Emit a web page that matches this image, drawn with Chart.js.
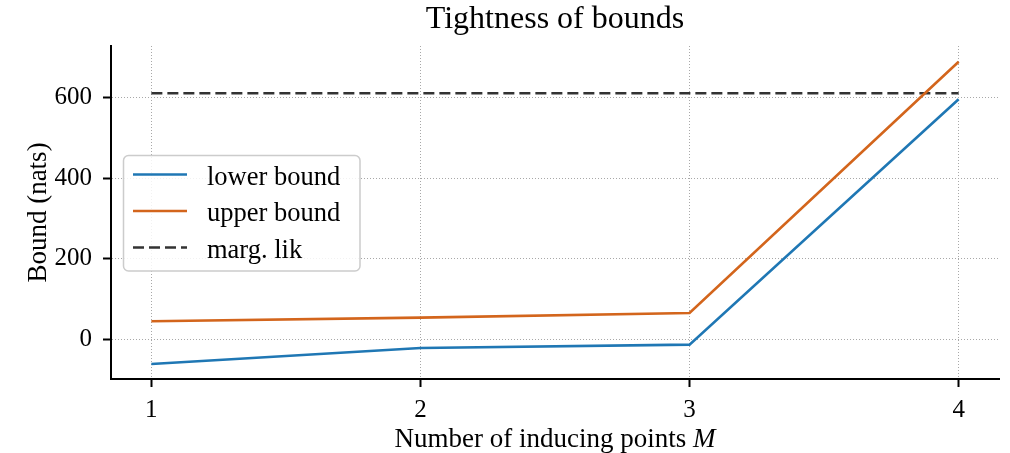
<!DOCTYPE html>
<html>
<head>
<meta charset="utf-8">
<title>Tightness of bounds</title>
<script src="https://cdn.jsdelivr.net/npm/chart.js@4.4.0/dist/chart.umd.min.js"></script>
<style>
  html, body { margin: 0; padding: 0; background: #ffffff; }
  #wrap { width: 1010px; height: 453px; position: relative; }
</style>
</head>
<body>
<div id="wrap"><canvas id="chart"></canvas></div>
<script>
// Number of inducing points on the x axis
const inducingPoints = [1, 2, 3, 4];
// Bounds on the log marginal likelihood, in nats
const lowerBound = [-60.5, -20.8, -12.4, 595];
const upperBound = [45.4, 54.5, 66, 688];
const margLik = [610, 610, 610, 610];
// Tick labels
const xTicks = [1, 2, 3, 4];
const yTicks = [0, 200, 400, 600];

const SERIF = "'Liberation Serif', 'DejaVu Serif', serif";

function toPoints(ys) {
  return inducingPoints.map((x, i) => ({ x: x, y: ys[i] }));
}

// Legend box drawn inside the plot area, from the dataset styles
const insideLegend = {
  id: 'insideLegend',
  afterDraw(chart, args, opts) {
    const ctx = chart.ctx;
    const { x, y, w, h, r } = opts.box;
    ctx.save();
    ctx.beginPath();
    ctx.roundRect(x, y, w, h, r);
    ctx.fillStyle = 'rgba(255,255,255,0.85)';
    ctx.fill();
    ctx.lineWidth = 1.5;
    ctx.strokeStyle = '#cccccc';
    ctx.stroke();
    ctx.font = opts.fontSize + 'px ' + SERIF;
    ctx.textAlign = 'left';
    ctx.textBaseline = 'alphabetic';
    chart.data.datasets.forEach((ds, i) => {
      const rowY = opts.firstRow + i * opts.rowGap;
      ctx.beginPath();
      ctx.setLineDash(ds.borderDash || []);
      ctx.lineWidth = ds.borderWidth;
      ctx.strokeStyle = ds.borderColor;
      ctx.moveTo(opts.lineX0, rowY);
      ctx.lineTo(opts.lineX1, rowY);
      ctx.stroke();
      ctx.setLineDash([]);
      ctx.fillStyle = '#000000';
      ctx.fillText(ds.label, opts.textX, rowY + opts.textDrop);
    });
    ctx.restore();
  }
};

// x-axis title with an italic symbol at the end
const xAxisTitle = {
  id: 'xAxisTitle',
  afterDraw(chart, args, opts) {
    const ctx = chart.ctx;
    const area = chart.chartArea;
    const plain = opts.text;
    const sym = opts.symbol;
    ctx.save();
    ctx.fillStyle = '#000000';
    ctx.textBaseline = 'alphabetic';
    ctx.textAlign = 'left';
    const fPlain = opts.fontSize + 'px ' + SERIF;
    const fSym = 'italic ' + opts.fontSize + 'px ' + SERIF;
    ctx.font = fPlain;
    const w1 = ctx.measureText(plain).width;
    ctx.font = fSym;
    const w2 = ctx.measureText(sym).width;
    const x0 = (area.left + area.right) / 2 - (w1 + w2) / 2;
    ctx.font = fPlain;
    ctx.fillText(plain, x0, opts.baseline);
    ctx.font = fSym;
    ctx.fillText(sym, x0 + w1, opts.baseline);
    ctx.restore();
  }
};

const gridCommon = {
  color: '#a8a8a8',
  lineWidth: 1,
  drawTicks: true,
  tickLength: 8,
  tickColor: '#000000',
  tickWidth: 2
};

new Chart(document.getElementById('chart'), {
  type: 'line',
  data: {
    datasets: [
      { label: 'lower bound', data: toPoints(lowerBound), borderColor: '#1f77b4', borderWidth: 2.6, pointRadius: 0, tension: 0, fill: false },
      { label: 'upper bound', data: toPoints(upperBound), borderColor: '#d3651c', borderWidth: 2.6, pointRadius: 0, tension: 0, fill: false },
      { label: 'marg. lik', data: toPoints(margLik), borderColor: '#333333', borderWidth: 2.6, borderDash: [11, 5], pointRadius: 0, tension: 0, fill: false }
    ]
  },
  options: {
    responsive: true,
    maintainAspectRatio: false,
    devicePixelRatio: 1,
    animation: false,
    layout: { padding: { top: 0, left: 0, right: 11, bottom: 0 } },
    font: { family: SERIF },
    plugins: {
      legend: { display: false },
      tooltip: { enabled: false },
      title: {
        display: true,
        fullSize: false,
        text: 'Tightness of bounds',
        color: '#000000',
        font: { family: SERIF, size: 32, weight: 'normal', lineHeight: 1.2 },
        padding: { top: 0, bottom: 7.6 }
      },
      insideLegend: {
        box: { x: 123.5, y: 155.5, w: 236.5, h: 115.5, r: 5 },
        fontSize: 26.5,
        firstRow: 174.5,
        rowGap: 36.5,
        lineX0: 133,
        lineX1: 187,
        textX: 207,
        textDrop: 10
      },
      xAxisTitle: {
        text: 'Number of inducing points ',
        symbol: 'M',
        fontSize: 27,
        baseline: 446.5
      }
    },
    scales: {
      x: {
        type: 'linear',
        min: 0.85,
        max: 4.15,
        afterBuildTicks: (s) => { s.ticks = xTicks.map(v => ({ value: v })); },
        afterFit: (s) => { s.height = 74; },
        ticks: {
          color: '#000000',
          padding: 8,
          font: { family: SERIF, size: 25 },
          callback: (v) => String(v)
        },
        grid: gridCommon,
        border: { display: true, color: '#000000', width: 2, dash: [1, 2] }
      },
      y: {
        type: 'linear',
        min: -97.5,
        max: 727,
        afterBuildTicks: (s) => { s.ticks = yTicks.map(v => ({ value: v })); },
        afterFit: (s) => { s.width = 111; },
        ticks: {
          color: '#000000',
          padding: 11,
          font: { family: SERIF, size: 25 },
          callback: (v) => String(v)
        },
        grid: gridCommon,
        border: { display: true, color: '#000000', width: 2, dash: [1, 2] },
        title: {
          display: true,
          text: 'Bound (nats)',
          color: '#000000',
          font: { family: SERIF, size: 27, weight: 'normal', lineHeight: 1.2 },
          padding: { top: 23, bottom: 0 }
        }
      }
    }
  },
  plugins: [insideLegend, xAxisTitle]
});
</script>
</body>
</html>
